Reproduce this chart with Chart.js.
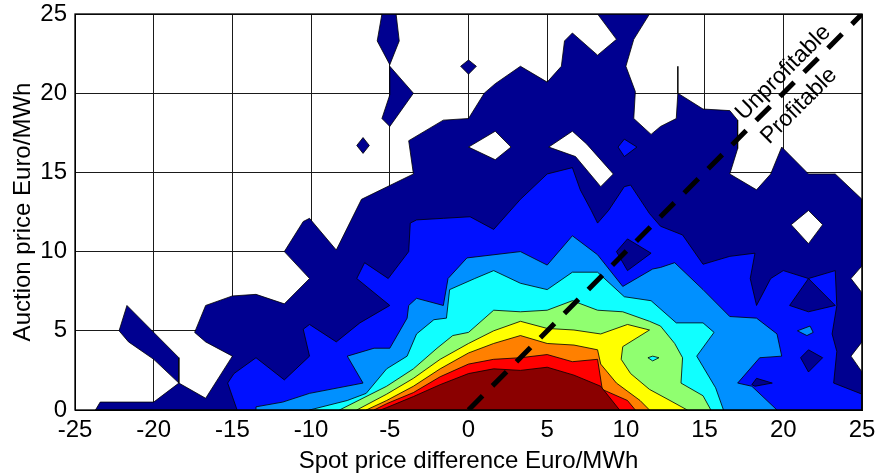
<!DOCTYPE html>
<html>
<head>
<meta charset="utf-8">
<script src="https://cdn.jsdelivr.net/npm/chart.js@4.4.0/dist/chart.umd.min.js"></script>
<style>
  html, body { margin: 0; padding: 0; background: #fff; }
  #wrap { width: 875px; height: 474px; }
</style>
</head>
<body>
<div id="wrap"><canvas id="contour"></canvas></div>
<script>
// contour polygons, [spot price diff, auction price]
var navyMain = [[-23.7,0],[-23.4,0.5],[-20,0.5],[-18.4,1.7],[-20,3.2],[-21.6,4.3],[-22.2,5.0],[-21.7,6.6],[-18.4,3.3],[-18.4,1.7],
  [-16.7,0.74],[-15.0,3.4],[-16.7,4.3],[-17.4,4.9],[-16.7,6.6],[-15.0,7.2],[-13.5,7.3],[-11.7,6.7],[-10.1,8.3],[-11.7,10.0],
  [-10.5,11.9],[-10.1,12.1],[-8.4,10.1],[-6.8,13.3],[-3.5,14.9],[-3.8,17.0],[-1.6,18.3],[0,18.4],[1.0,20.0],[1.7,20.6],
  [3.3,21.7],[5.0,20.7],[5.9,21.7],[6.1,23.3],[6.6,23.8],[8.2,22.4],[9.4,23.4],[8.2,25],[11.5,25],[10.5,23.4],[10.0,21.7],
  [10.6,20.1],[10.5,18.4],[11.6,17.4],[12.2,17.9],[13.2,18.4],[13.3,20.0],[14.9,19.0],[16.6,18.9],[17.1,18.3],[17.1,16.5],
  [16.6,14.9],[18.3,13.9],[19.2,14.9],[19.9,16.6],[21.6,14.9],[23.3,14.9],[25,13.3],[25,0]];
var navyIslands = [
  [[-5.5,25],[-4.6,25],[-4.4,23.3],[-5.0,21.8],[-5.8,23.3]],
  [[-5.0,21.7],[-3.5,20.0],[-5.0,17.9],[-5.5,18.4],[-5.0,19.9]],
  [[-7.1,16.7],[-6.7,17.2],[-6.3,16.7],[-6.7,16.2]],
  [[-0.5,21.7],[0,22.1],[0.5,21.7],[0,21.2]]
];
var whiteHoles = [
  [[0,16.6],[1.7,17.6],[2.7,16.6],[1.7,15.8]],
  [[5.1,16.6],[6.6,17.6],[7.5,16.8],[9.2,14.9],[8.4,14.1],[6.8,16.0]],
  [[20.5,11.7],[21.6,12.6],[22.5,11.7],[21.6,10.5]],
  [[25,9.1],[24.3,8.3],[25,7.4]],
  [[25,4.3],[24.3,3.4],[25,2.4]]
];
var blueIsland = [[9.5,16.6],[9.9,17.1],[10.7,16.6],[9.9,16.0]];
var blueMain = [[-14.7,0],[-15.3,1.7],[-14.9,2.3],[-13.5,3.3],[-11.7,1.9],[-10.1,3.4],[-10.5,5.1],[-10.1,5.4],[-8.4,4.3],
  [-6.9,5.5],[-5.0,6.6],[-7.1,8.3],[-6.6,9.3],[-5.1,8.3],[-3.8,10.0],[-3.7,11.8],[-3.3,12.0],[-1.6,12.1],[0.1,12.2],
  [1.6,11.4],[3.3,13.3],[5.0,14.9],[6.6,15.3],[7.1,13.9],[7.8,12.6],[8.2,11.8],[8.9,12.6],[9.9,14.1],[10.3,14.2],
  [11.5,12.4],[12.2,11.6],[13.6,11.05],[14.9,9.2],[16.6,9.7],[18.2,9.9],[17.9,8.3],[18.3,6.6],[19.2,8.3],[20.0,8.8],
  [21.6,8.3],[23.3,8.8],[23.4,6.6],[23.1,4.8],[23.4,3.7],[23.2,1.7],[25,1.0],[25,0]];
var navyInBlue = [
  [[20.4,6.6],[21.6,8.3],[23.3,6.6],[21.6,6.2]],
  [[21.1,3.3],[21.6,3.8],[22.5,3.3],[21.6,2.4]],
  [[18.0,1.6],[18.3,2.0],[19.3,1.7],[18.2,1.5]],
  [[9.4,10.0],[10.1,10.8],[11.6,9.9],[10.1,8.8]]
];
var lightBlueMain = [[-13.5,0],[-13.5,0.2],[-11.8,0.5],[-10.1,1.05],[-6.7,1.7],[-7.7,3.4],[-6.0,3.9],[-5.0,3.9],[-3.9,5.8],
  [-3.8,6.6],[-3.3,7.05],[-1.6,6.6],[-1.3,8.3],[-0.1,9.6],[3.3,10.0],[5.0,9.15],[6.6,11.0],[8.2,9.8],[9.8,7.8],[11.7,8.9],
  [12.2,9.0],[13.1,9.3],[14.9,7.6],[16.6,5.9],[18.3,5.8],[19.6,4.8],[19.9,3.4],[18.5,3.3],[17.1,1.7],[18.0,1.5],[19.6,0]];
var lightBlueIsland = [[20.9,5.0],[21.7,5.3],[21.9,4.9],[21.5,4.7]];
var cyanMain = [[-10.1,0],[-7.7,0.6],[-6.5,1.05],[-5.2,2.6],[-3.9,3.4],[-3.3,4.8],[-2.2,5.7],[-1.4,5.8],[-1.2,7.6],[0.4,8.3],
  [1.6,8.8],[3.3,8.0],[5.0,7.6],[6.6,8.7],[8.2,8.7],[9.9,7.15],[11.6,6.9],[13.2,5.5],[14.9,5.5],[15.6,4.9],[14.5,3.4],
  [15.7,1.4],[16.2,0]];
var greenMain = [[-8.2,0],[-5.2,1.5],[-3.5,2.6],[-2.0,3.9],[-1.0,4.7],[0,4.9],[1.6,6.3],[3.3,6.2],[5.0,6.3],[6.6,6.9],
  [8.2,6.3],[9.8,6.2],[11.5,5.6],[12.2,5.3],[13.1,4.2],[13.6,3.3],[13.5,1.7],[14.9,0.9],[15.4,0]];
var cyanIsland = [[11.4,3.3],[11.7,3.4],[12.1,3.3],[11.7,3.1]];
var yellowMain = [[-7.1,0],[-5.2,1.0],[-3.5,2.0],[-1.8,3.2],[0,4.2],[1.6,5.0],[3.3,5.6],[5.0,5.15],[6.7,5.05],[8.4,4.8],
  [10.1,5.4],[11.5,5.05],[9.8,4.0],[9.7,3.2],[10.3,2.3],[11.5,1.3],[12.8,0.6],[13.9,0]];
var orangeMain = [[-6.5,0],[-5.2,0.6],[-3.5,1.5],[-1.8,2.6],[0,3.6],[1.6,4.2],[3.3,4.7],[5.0,4.2],[6.7,4.1],[8.2,3.8],
  [8.4,2.9],[9.4,1.7],[10.9,0.6],[11.5,0]];
var redMain = [[-6.0,0],[-5.2,0.4],[-3.5,1.1],[-1.8,2.1],[0,2.9],[1.6,3.2],[3.3,3.3],[5.0,3.5],[6.6,3.05],[8.2,3.2],
  [8.5,1.3],[10.1,0.6],[10.6,0]];
var darkRedMain = [[-5.6,0],[-5.2,0.15],[-3.5,0.85],[-1.8,1.6],[0,2.3],[1.6,2.6],[3.3,2.5],[5.0,2.7],[6.7,2.2],[8.4,1.5],[9.6,0]];
var stubLine = [[13.3,20.0],[13.3,21.7]];
var breakEven = [[0,0],[25,25]];

var FONT = '"Liberation Sans", Arial, sans-serif';
var navy = '#000090', blue = '#0010FF', lightBlue = '#0090FF', cyan = '#10FFFF',
    green = '#90FF70', yellow = '#FFFF00', orange = '#FF8000', red = '#FF0000', darkRed = '#8A0000';

function toPts(poly) {
  var pts = poly.map(function(p) { return {x: p[0], y: p[1]}; });
  pts.push({x: poly[0][0], y: poly[0][1]});
  return pts;
}

// datasets listed bottom layer first, order set so later ones paint on top
var layers = [];
function addPoly(poly, color) {
  layers.push({type: 'line', data: toPts(poly), backgroundColor: color, borderColor: '#000',
    borderWidth: 0.8, fill: 'shape', pointRadius: 0, tension: 0});
}
addPoly(navyMain, navy);
navyIslands.forEach(function(p) { addPoly(p, navy); });
whiteHoles.forEach(function(p) { addPoly(p, '#fff'); });
addPoly(blueIsland, blue);
addPoly(blueMain, blue);
navyInBlue.forEach(function(p) { addPoly(p, navy); });
addPoly(lightBlueMain, lightBlue);
addPoly(lightBlueIsland, lightBlue);
addPoly(cyanMain, cyan);
addPoly(greenMain, green);
addPoly(cyanIsland, cyan);
addPoly(yellowMain, yellow);
addPoly(orangeMain, orange);
addPoly(redMain, red);
addPoly(darkRedMain, darkRed);
layers.push({type: 'line', data: stubLine.map(function(p) { return {x: p[0], y: p[1]}; }),
  borderColor: '#000', borderWidth: 1.5, fill: false, pointRadius: 0});
layers.push({type: 'line', data: breakEven.map(function(p) { return {x: p[0], y: p[1]}; }),
  borderColor: '#000', borderWidth: 5, borderDash: [20, 14], borderCapStyle: 'butt', fill: false, pointRadius: 0});
layers.forEach(function(d, i) { d.order = layers.length - i; });

var frameAndNotes = {
  id: 'frameAndNotes',
  afterDatasetsDraw: function(chart) {
    var ctx = chart.ctx, a = chart.chartArea;
    var xs = chart.scales.x, ys = chart.scales.y;
    ctx.save();
    ctx.strokeStyle = '#000';
    ctx.lineWidth = 1.3;
    ctx.strokeRect(a.left, a.top, a.right - a.left, a.bottom - a.top);
    ctx.fillStyle = '#000';
    ctx.font = '23px ' + FONT;
    ctx.textAlign = 'center';
    ctx.textBaseline = 'middle';
    [['Unprofitable', 20.0, 21.3], ['Profitable', 21.0, 19.2]].forEach(function(t) {
      ctx.save();
      ctx.translate(xs.getPixelForValue(t[1]), ys.getPixelForValue(t[2]));
      ctx.rotate(-Math.PI / 4);
      ctx.fillText(t[0], 0, 0);
      ctx.restore();
    });
    ctx.restore();
  }
};

Chart.defaults.font.family = FONT;
Chart.defaults.color = '#000';

new Chart('contour', {
  type: 'line',
  data: {datasets: layers},
  plugins: [frameAndNotes],
  options: {
    responsive: true,
    maintainAspectRatio: false,
    animation: false,
    events: [],
    layout: {padding: {top: 14, right: 13, left: 0, bottom: 0}},
    plugins: {legend: {display: false}, tooltip: {enabled: false}},
    scales: {
      x: {
        type: 'linear', min: -25, max: 25,
        ticks: {stepSize: 5, padding: 6, font: {size: 24, lineHeight: 1.2}, maxRotation: 0},
        grid: {color: '#1a1a1a', lineWidth: 1, drawTicks: false},
        border: {display: true, color: '#000'},
        title: {display: true, text: 'Spot price difference Euro/MWh', font: {size: 24, lineHeight: 1}, padding: {top: 0, bottom: 1}},
        afterFit: function(s) { s.height = 64; s.paddingLeft = 0; s.paddingRight = 0; }
      },
      y: {
        type: 'linear', min: 0, max: 25,
        ticks: {stepSize: 5, padding: 8, font: {size: 24, lineHeight: 1}},
        grid: {color: '#1a1a1a', lineWidth: 1, drawTicks: false},
        border: {display: true, color: '#000'},
        title: {display: true, text: 'Auction price Euro/MWh', font: {size: 24, lineHeight: 1}, padding: {top: 11, bottom: 0}},
        afterFit: function(s) { s.width = 75; s.paddingTop = 0; s.paddingBottom = 0; }
      }
    }
  }
});
</script>
</body>
</html>
